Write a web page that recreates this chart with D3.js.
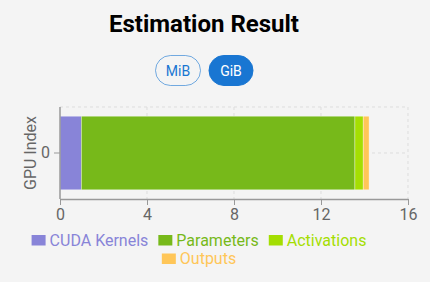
<!DOCTYPE html>
<html><head><meta charset="utf-8">
<script src="https://cdn.jsdelivr.net/npm/d3@7/dist/d3.min.js"></script>
<style>
html,body{margin:0;padding:0;background:#f4f4f4;}
svg{display:block;font-family:Roboto,"Noto Sans",sans-serif;}
</style></head>
<body>
<svg id="chart" width="430" height="282"></svg>
<script>
const title = "Estimation Result";
const units = ["MiB", "GiB"];
const activeUnit = "GiB";
const gpuIndices = ["0"];
const seriesNames = ["CUDA Kernels", "Parameters", "Activations", "Outputs"];
const seriesColors = ["#8884d8", "#77b91a", "#a4de02", "#ffc658"];
const cudaKernels = [0.98];
const parameters = [12.58];
const activations = [0.38];
const outputs = [0.27];
const xTicks = [0, 4, 8, 12, 16];
const yLabel = "GPU Index";

const seriesValues = [cudaKernels, parameters, activations, outputs];
const rows = gpuIndices.map((g, i) => {
  const r = {gpu: g};
  seriesNames.forEach((s, k) => r[s] = seriesValues[k][i]);
  return r;
});

const svg = d3.select("#chart");
const cx = 204;

svg.append("text").attr("x", cx).attr("y", 32).attr("text-anchor", "middle")
  .attr("font-size", 24).attr("font-weight", 700).attr("fill", "#000").text(title);

// unit buttons
const btnX = [155.5, 209];
const btnW = [45, 44];
units.forEach((u, i) => {
  const active = u === activeUnit;
  const g = svg.append("g");
  g.append("rect").attr("x", btnX[i]).attr("y", 55.5).attr("width", btnW[i]).attr("height", 30)
    .attr("rx", 15).attr("fill", active ? "#1976d2" : "none")
    .attr("stroke", active ? "#1976d2" : "rgba(25,118,210,0.6)").attr("stroke-width", 1);
  g.append("text").attr("x", btnX[i] + btnW[i] / 2).attr("y", 75.5).attr("text-anchor", "middle")
    .attr("font-size", 14).attr("font-weight", 400).attr("fill", active ? "#fff" : "#1976d2").text(u);
});

const pL = 60, pR = 408, pT = 107, pB = 199;
const x = d3.scaleLinear().domain([0, 16]).range([pL, pR]);
const y = d3.scaleBand().domain(gpuIndices).range([pT, pB]).paddingInner(0.2).paddingOuter(0.1);

// grid
const grid = svg.append("g").attr("stroke", "#ddd").attr("stroke-dasharray", "3 3").attr("fill", "none");
xTicks.filter(t => t > 0).forEach(t => grid.append("line").attr("x1", x(t)).attr("x2", x(t)).attr("y1", pT).attr("y2", pB));
grid.append("line").attr("x1", pL).attr("x2", pR).attr("y1", pT).attr("y2", pT);
gpuIndices.forEach(g => grid.append("line").attr("x1", pL).attr("x2", pR)
  .attr("y1", y(g) + y.bandwidth() / 2).attr("y2", y(g) + y.bandwidth() / 2));

// bars
const stack = d3.stack().keys(seriesNames)(rows);
stack.forEach((layer, k) => {
  svg.append("g").selectAll("rect").data(layer).join("rect")
    .attr("x", d => x(d[0])).attr("width", d => x(d[1]) - x(d[0]))
    .attr("y", d => y(d.data.gpu)).attr("height", y.bandwidth())
    .attr("fill", seriesColors[k]).attr("stroke", "rgba(255,255,255,0.6)").attr("stroke-width", 0.6);
});

// axes
const xAxis = svg.append("g").attr("transform", `translate(0,${pB})`)
  .call(d3.axisBottom(x).tickValues(xTicks).tickSize(6).tickSizeOuter(0).tickPadding(4));
const yAxis = svg.append("g").attr("transform", `translate(${pL},0)`)
  .call(d3.axisLeft(y).tickSize(6).tickSizeOuter(0).tickPadding(4));
[xAxis, yAxis].forEach(a => {
  a.select(".domain").attr("stroke", "#999").attr("stroke-width", 1.5);
  a.selectAll(".tick line").attr("stroke", "#999").attr("stroke-width", 1);
  a.selectAll(".tick text").attr("fill", "#666").attr("font-size", 16).attr("font-family", "Roboto, sans-serif");
});
yAxis.select(".domain").attr("d", `M0,${pT}V${pB}`);

svg.append("text").attr("transform", `translate(36,153) rotate(-90)`).attr("text-anchor", "middle")
  .attr("font-size", 16).attr("fill", "#666").text(yLabel);

// legend
const legend = svg.append("g");
const items = seriesNames.map((n, k) => {
  const t = legend.append("text").attr("font-size", 16).attr("fill", seriesColors[k]).text(n);
  return {n, k, t, w: 14 + 4 + t.node().getComputedTextLength() + 10};
});
const maxW = 398;
const lrows = [];
let cur = [], curW = 0;
items.forEach(it => {
  if (cur.length && curW + it.w > maxW) { lrows.push(cur); cur = []; curW = 0; }
  cur.push(it); curW += it.w;
});
if (cur.length) lrows.push(cur);
lrows.forEach((r, ri) => {
  const tw = d3.sum(r, d => d.w);
  let px = cx - tw / 2;
  const cy = 240 + ri * 18.5;
  r.forEach(it => {
    legend.append("rect").attr("x", px).attr("y", cy - 5).attr("width", 14).attr("height", 10.5)
      .attr("fill", seriesColors[it.k]);
    it.t.attr("x", px + 18).attr("y", cy + 5.5);
    px += it.w;
  });
});
</script>
</body></html>
